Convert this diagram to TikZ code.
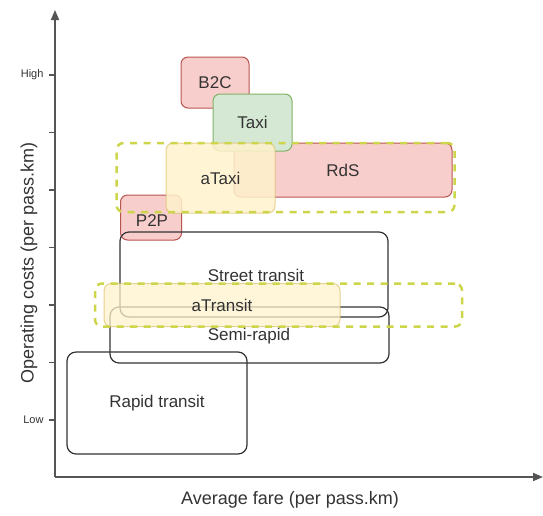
\documentclass[tikz,border=0pt]{standalone}
\usepackage{fontspec}
\setmainfont{Liberation Sans}
\usetikzlibrary{arrows.meta}
\definecolor{redF}{HTML}{F8CECC}
\definecolor{redD}{HTML}{B85450}
\definecolor{grnF}{HTML}{D5E8D4}
\definecolor{grnD}{HTML}{82B366}
\definecolor{yelF}{HTML}{FFF2CC}
\definecolor{yelD}{HTML}{D6B656}
\definecolor{dashC}{HTML}{CDD64A}
\definecolor{txt}{HTML}{333333}
\definecolor{axisC}{HTML}{555555}
\begin{document}
\begin{tikzpicture}[x=1pt,y=-1pt,
  lbl/.style={font=\fontsize{17}{20}\selectfont, text=txt},
  box/.style={lbl, rounded corners=7pt, line width=1pt, inner sep=0pt},
  redbox/.style={box, fill=redF, draw=redD},
  grnbox/.style={box, fill=grnF, draw=grnD},
  yelbox/.style={box, fill=yelF, draw=yelD, fill opacity=0.85, draw opacity=0.6, text opacity=1},
  blkbox/.style={box, draw=txt, line width=1.2pt, rounded corners=9pt},
  dashbox/.style={draw=dashC, line width=2.5pt, dash pattern=on 7pt off 6.5pt, rounded corners=7pt, inner sep=0pt},
  axisline/.style={draw=axisC, line width=1.8pt, -{Triangle[length=10pt,width=8pt]}},
  tick/.style={draw=axisC, line width=1.2pt},
  small/.style={font=\fontsize{11}{13}\selectfont, text=txt}
]
\useasboundingbox (0,0) rectangle (543,515);

% axes
\coordinate (O) at (55,477);
\coordinate (ytip) at (55,10);
\coordinate (xtip) at (543,477);
\draw[axisline] (O) -- (ytip);
\draw[axisline] (O) -- (xtip);
\foreach \k/\yy in {0/75,1/132.5,2/190,3/247.5,4/305,5/362.5,6/420}{
  \coordinate (tA\k) at (49,\yy);
  \coordinate (tB\k) at (55,\yy);
  \draw[tick] (tA\k) -- (tB\k);
}
\node[small, anchor=east] (high) at (47,75) {High};
\node[small, anchor=east] (low) at (47,420) {Low};
\node[lbl, font=\fontsize{18}{21}\selectfont, rotate=90] (ylab) at (29,263) {Operating costs (per pass.km)};
\node[lbl, font=\fontsize{18}{21}\selectfont] (xlab) at (290,500) {Average fare (per pass.km)};

% taxi-like services
\node[redbox, minimum width=68pt, minimum height=51pt] (b2c) at (215,82.5) {B2C};
\node[redbox, minimum width=218pt, minimum height=54pt] (rds) at (343,170) {RdS};
\node[grnbox, minimum width=79pt, minimum height=57pt] (taxi) at (252.5,122.5) {Taxi};
\node[redbox, minimum width=61pt, minimum height=45pt] (p2p) at (151,217.5) {};
\node[yelbox, minimum width=109pt, minimum height=70pt] (ataxi) at (220.5,178) {aTaxi};
\node[dashbox, minimum width=338pt, minimum height=69pt] (dashtaxi) at (285.5,177.5) {};
\node[lbl] (p2plab) at (152,221) {P2P};

% transit
\node[blkbox, minimum width=268pt, minimum height=85pt] (street) at (254,274.5) {};
\node[blkbox, minimum width=279pt, minimum height=56pt] (semi) at (249.5,335) {};
\node[blkbox, minimum width=180pt, minimum height=102pt] (rapid) at (157,403) {Rapid transit};
\node[yelbox, fill opacity=0.75, minimum width=236pt, minimum height=43pt] (atransit) at (222,305) {aTransit};
\node[dashbox, minimum width=367pt, minimum height=43pt] (dashtransit) at (278.5,305) {};
\node[lbl] (streetlab) at (256,275) {Street transit};
\node[lbl] (semilab) at (249,336) {Semi-rapid};
\end{tikzpicture}
\end{document}
